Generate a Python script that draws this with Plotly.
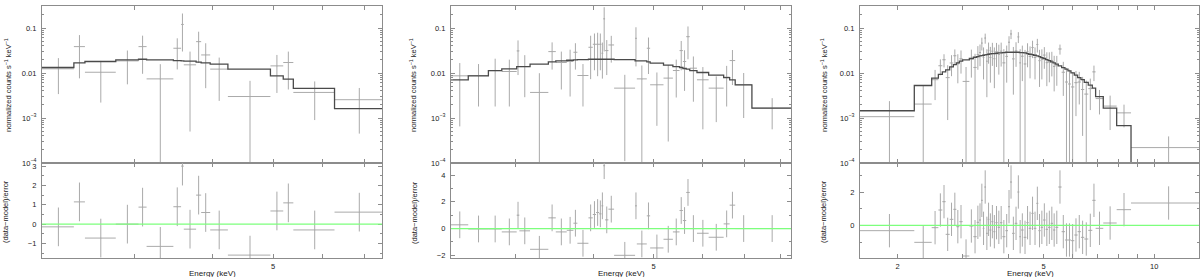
import math
import plotly.graph_objects as go

# ---------------- Panel 1 ----------------
p1_edges = [2.128, 2.394, 2.494, 2.795, 3.04, 3.132, 3.458, 3.558, 3.594, 3.761,
            3.832, 3.962, 4.23, 4.95, 5.19, 5.387, 6.273, 7.476]
p1_rate = [0.0124, 0.0386, 0.0104, 0.0186, 0.0386, 0.0074, 0.0355, 0.12, 0.0152,
           0.0498, 0.0252, 0.0122, 0.0030, 0.0144, 0.0171, 0.0037, 0.00255]
p1_err = [0.009, 0.031, 0.0082, 0.013, 0.029, 0.0083, 0.0235, 0.09, 0.0147,
          0.033, 0.0206, 0.0098, 0.0037, 0.0108, 0.0128, 0.0028, 0.0021]
p1_model = [0.01324, 0.0168, 0.018, 0.0196, 0.0202, 0.0196, 0.0189, 0.0186, 0.0183,
            0.0174, 0.0168, 0.0157, 0.0122, 0.00865, 0.0073, 0.00454, 0.00161]
p1_resid = [-0.14, 1.15, -0.72, 0.0, 0.88, -1.15, 0.9, 3.0, -0.26, 1.5, 0.6,
            -0.3, -1.6, 0.68, 1.1, -0.3, 0.62]

# ---------------- Panel 2 ----------------
p2_edges = [2.359, 2.515, 2.710, 2.848, 3.010, 3.040, 3.163, 3.385, 3.480, 3.624,
            3.715, 3.770, 3.928, 3.992, 4.041, 4.087, 4.123, 4.150, 4.178, 4.230,
            4.320, 4.670, 4.700, 4.877, 4.938, 5.189, 5.373, 5.507, 5.576, 5.645,
            5.720, 5.875, 6.135, 6.486, 6.632, 6.770, 7.203, 8.327]
p2_rate = [0.00865, 0.0088, 0.0113, 0.0108, 0.031, 0.0139, 0.0037, 0.0299, 0.0171,
           0.018, 0.0289, 0.0088, 0.0373, 0.0435, 0.0435, 0.0435, 0.0275, 0.16,
           0.0315, 0.042, 0.00461, 0.059, 0.0074, 0.0355, 0.00547, 0.0077, 0.01135,
           0.0315, 0.018, 0.0642, 0.0128, 0.00706, 0.00461, 0.0081, 0.0189, 0.0055,
           0.00166]
p2_err = [0.008, 0.007, 0.0095, 0.009, 0.022, 0.011, 0.0062, 0.018, 0.0128, 0.015,
          0.017, 0.007, 0.03, 0.032, 0.035, 0.032, 0.02, 0.13, 0.0225, 0.025, 0.0045,
          0.045, 0.0073, 0.026, 0.0048, 0.0074, 0.0085, 0.02, 0.014, 0.044, 0.0105,
          0.0065, 0.0038, 0.0063, 0.0135, 0.0045, 0.0011]
p2_model = [0.00706, 0.00865, 0.01135, 0.0124, 0.0139, 0.0139, 0.0157, 0.0177, 0.0186,
            0.0192, 0.0196, 0.0199, 0.0202, 0.0202, 0.0202, 0.0202, 0.0202, 0.0202,
            0.0202, 0.0202, 0.0199, 0.0186, 0.0186, 0.0177, 0.0165, 0.0149, 0.0139,
            0.01324, 0.0126, 0.0122, 0.01135, 0.01025, 0.00895, 0.0079, 0.00706,
            0.00547, 0.00166]
p2_resid = [0.28, -0.03, -0.03, -0.25, 1.0, -0.17, -1.55, 0.8, -0.25, -0.13, 0.4,
            -1.1, 0.8, 1.05, 1.2, 1.1, 1.7, 4.7, 0.65, 1.45, -2.0, 1.7, -1.15, 0.95,
            -1.45, -0.8, -0.25, 1.35, 0.6, 2.7, 0.0, -0.35, -0.65, 0.35, 1.75, 0.0, 0.0]

# ---------------- Panel 3 ----------------
p3_edges = [1.579, 2.220, 2.476, 2.582, 2.647, 2.703, 2.772, 2.836, 2.890, 2.945,
            3.007, 3.136, 3.216, 3.284, 3.332, 3.374, 3.410, 3.446, 3.482, 3.519,
            3.556, 3.601, 3.646, 3.692, 3.746, 3.801, 3.857, 3.931, 3.997, 4.048,
            4.099, 4.168, 4.239, 4.291, 4.336, 4.410, 4.485, 4.551, 4.628, 4.696,
            4.775, 4.835, 4.907, 4.979, 5.062, 5.137, 5.224, 5.301, 5.378, 5.480,
            5.596, 5.714, 5.823, 5.933, 6.059, 6.186, 6.316, 6.450, 6.614, 6.783,
            6.926, 7.267, 7.904, 8.649, 13.25]
p3_model = [0.00145, 0.00528, 0.0077, 0.0093, 0.0106, 0.0117, 0.0137, 0.0154, 0.0168,
            0.0183, 0.0196, 0.0210, 0.0224, 0.0232, 0.0240, 0.0244, 0.0248, 0.0252,
            0.0257, 0.0261, 0.0266, 0.0270, 0.0270, 0.0275, 0.0279, 0.0279, 0.0284,
            0.0289, 0.0289, 0.0289, 0.0289, 0.0289, 0.0289, 0.0284, 0.0284, 0.0279,
            0.0270, 0.0261, 0.0257, 0.0248, 0.0240, 0.0232, 0.0220, 0.0210, 0.0199,
            0.0189, 0.0177, 0.0168, 0.0157, 0.0144, 0.0132, 0.0122, 0.0112, 0.0101,
            0.0090, 0.0079, 0.0071, 0.0062, 0.0054, 0.0046, 0.0030, 0.00166, 0.00068,
            0.00005]
p3_err = [0.0013, 0.0032, 0.0046, 0.0056, 0.0064, 0.007, 0.0082, 0.0092, 0.0101,
          0.011, 0.0071, 0.0126, 0.0134, 0.0139, 0.0144, 0.0146, 0.0149, 0.0151,
          0.0154, 0.0157, 0.016, 0.0162, 0.0162, 0.0165, 0.0167, 0.0167, 0.017,
          0.0173, 0.0173, 0.0173, 0.0173, 0.0173, 0.0173, 0.017, 0.017, 0.0167,
          0.0162, 0.0157, 0.0154, 0.0149, 0.0144, 0.0139, 0.0132, 0.0126, 0.0119,
          0.0113, 0.0106, 0.0101, 0.0094, 0.0086, 0.0073, 0.0067, 0.0062, 0.0056,
          0.005, 0.0043, 0.0039, 0.0034, 0.003, 0.004, 0.0015, 0.0013, 0.00068,
          0.00017]
p3_rate = [0.00107, 0.00204, 0.0071, 0.0145, 0.0197, 0.0079, 0.0167, 0.0242, 0.016,
           0.0207, 0.0065, 0.0205, 0.0133, 0.0257, 0.0286, 0.0463, 0.0221, 0.0599,
           0.0183, 0.0318, 0.0221, 0.0306, 0.0208, 0.0301, 0.0259, 0.0306, 0.0168,
           0.0234, 0.0483, 0.0739, 0.0206, 0.031, 0.0635, 0.0168, 0.0236, 0.0159,
           0.0296, 0.0233, 0.0368, 0.0221, 0.043, 0.0188, 0.0204, 0.025, 0.017,
           0.0175, 0.019, 0.014, 0.0146, 0.0342, 0.0104, 0.0063, 0.0057, 0.0049,
           0.0061, 0.0063, 0.0043, 0.0034, 0.0045, 0.0106, 0.0027, 0.00184, 0.0013,
           0.00022]
p3_resid = [-0.32, -1.02, -0.14, 0.92, 1.42, -0.54, 0.36, 0.96, -0.08, 0.22, -1.84,
            -0.04, -0.68, 0.18, 0.32, 1.5, -0.18, 2.3, -0.48, 0.36, -0.28, 0.22,
            -0.38, 0.16, -0.12, 0.16, -0.68, -0.32, 1.12, 2.6, -0.48, 0.12, 2.0,
            -0.68, -0.28, -0.72, 0.16, -0.18, 0.72, -0.18, 1.32, -0.32, -0.12, 0.32,
            -0.24, -0.12, 0.12, -0.28, -0.12, 2.3, -0.38, -0.88, -0.88, -0.92, -0.58,
            -0.38, -0.72, -0.82, -0.3, 1.5, -0.18, 0.14, 0.94, 1.34]

# Axis tick definitions
p1_xticks = [3, 4, 5, 6, 7]
p1_xlabels = ["", "", "5", "", ""]
p2_xticks = [3, 4, 5, 6, 7, 8]
p2_xlabels = ["", "", "5", "", "", ""]
p3_xticks = [2, 3, 4, 5, 6, 7, 8, 9, 10]
p3_xlabels = ["2", "", "", "5", "", "", "", "", "10"]
top_yticks = [1e-4, 1e-3, 1e-2, 1e-1]
top_ylabels = ["10<sup>−4</sup>", "10<sup>−3</sup>", "0.01", "0.1"]
top_yminor = [m * 10.0 ** d for d in (-4, -3, -2, -1) for m in range(2, 10) if m * 10.0 ** d < 0.31]

# ---------------- styling ----------------
FONT = "Liberation Sans, Arial, sans-serif"
FRAME = "#8c8c8c"
DATA = "#aaaaaa"
MODEL = "#4a4a4a"
GREEN = "#7dff7d"
TXT = "#222222"

W, H = 1200, 277
PLOT_TOP, PLOT_BOT = 6, 258      # pixel rows of plot area
SPLIT = 163                       # boundary between top and bottom panels
ph = PLOT_BOT - PLOT_TOP
split_frac = (PLOT_BOT - SPLIT) / ph

panels = [
    dict(edges=p1_edges, rate=p1_rate, err=p1_err, model=p1_model, resid=p1_resid,
         px=(42, 382), xt=p1_xticks, xl=p1_xlabels, yr=(-1.75, 3.16), ydt=1,
         ytitle_x=(8, 5), xtitle_x=212.7),
    dict(edges=p2_edges, rate=p2_rate, err=p2_err, model=p2_model, resid=p2_resid,
         px=(451, 791), xt=p2_xticks, xl=p2_xlabels, yr=(-2.2, 4.9), ydt=2,
         ytitle_x=(413, 414), xtitle_x=621.7),
    dict(edges=p3_edges, rate=p3_rate, err=p3_err, model=p3_model, resid=p3_resid,
         px=(860, 1199), xt=p3_xticks, xl=p3_xlabels, yr=(-1.96, 3.74), ydt=2,
         ytitle_x=(824, 823), xtitle_x=1030),
]

fig = go.Figure()
layout = dict(width=W, height=H, margin=dict(l=0, r=0, t=PLOT_TOP, b=H - PLOT_BOT),
              paper_bgcolor="white", plot_bgcolor="white", showlegend=False,
              font=dict(family=FONT, size=8, color=TXT))
annotations = []
shapes = []

common = dict(showline=True, linecolor=FRAME, linewidth=1.2, mirror="allticks",
              ticks="inside", ticklen=4, tickwidth=1, tickcolor=FRAME, showgrid=False,
              zeroline=False, tickfont=dict(family=FONT, size=7.5, color=TXT))


def axname(n, kind):
    return f"{kind}axis" if n == 1 else f"{kind}axis{n}"


def ref(n, kind):
    return kind if n == 1 else f"{kind}{n}"


def py2paper(py):
    return (PLOT_BOT - py) / ph


for k, p in enumerate(panels):
    nt, nb = 2 * k + 1, 2 * k + 2
    edges = p["edges"]
    lo, hi = edges[:-1], edges[1:]
    cen = [(a + b) / 2 for a, b in zip(lo, hi)]
    xdom = [p["px"][0] / W, p["px"][1] / W]
    xr = [math.log10(edges[0]), math.log10(edges[-1])]

    errx = dict(type="data", symmetric=False, array=[b - c for b, c in zip(hi, cen)],
                arrayminus=[c - a for a, c in zip(lo, cen)], width=0, thickness=1, color=DATA)
    fig.add_trace(go.Scatter(x=cen, y=p["rate"], mode="markers",
                             marker=dict(size=1, color=DATA),
                             error_x=errx,
                             error_y=dict(type="data", array=p["err"], width=0,
                                          thickness=1, color=DATA),
                             xaxis=ref(nt, "x"), yaxis=ref(nt, "y"), hoverinfo="skip"))
    fig.add_trace(go.Scatter(x=edges, y=p["model"] + [p["model"][-1]], mode="lines",
                             line=dict(shape="hv", color=MODEL, width=1.3),
                             xaxis=ref(nt, "x"), yaxis=ref(nt, "y"), hoverinfo="skip"))
    fig.add_trace(go.Scatter(x=cen, y=p["resid"], mode="markers",
                             marker=dict(size=1, color=DATA),
                             error_x=errx,
                             error_y=dict(type="constant", value=1, width=0,
                                          thickness=1, color=DATA),
                             xaxis=ref(nb, "x"), yaxis=ref(nb, "y"), hoverinfo="skip"))

    layout[axname(nt, "x")] = dict(common, type="log", range=xr, domain=xdom,
                                   anchor=ref(nt, "y"), tickvals=p["xt"],
                                   showticklabels=False)
    layout[axname(nb, "x")] = dict(common, type="log", range=xr, domain=xdom,
                                   anchor=ref(nb, "y"), tickvals=p["xt"],
                                   ticktext=p["xl"], ticklabelstandoff=1)
    layout[axname(nt, "y")] = dict(common, type="log", range=[-4, -0.511],
                                   domain=[split_frac, 1], anchor=ref(nt, "x"),
                                   tickvals=top_yticks, ticktext=top_ylabels,
                                   ticklabelstandoff=3,
                                   minor=dict(tickvals=top_yminor, ticks="inside",
                                              ticklen=2, tickcolor=FRAME))
    layout[axname(nb, "y")] = dict(common, range=list(p["yr"]), domain=[0, split_frac],
                                   anchor=ref(nb, "x"), dtick=p["ydt"], tick0=0,
                                   ticklabelstandoff=3,
                                   minor=dict(dtick=p["ydt"] / 2, ticks="inside",
                                              ticklen=2, tickcolor=FRAME))

    shapes.append(dict(type="line", xref=f"{ref(nb, 'x')} domain", x0=0, x1=1,
                       yref=ref(nb, "y"), y0=0, y1=0, layer="above",
                       line=dict(color=GREEN, width=1.2)))

    annotations.append(dict(text="normalized counts s<sup>−1</sup> keV<sup>−1</sup>",
                            xref="paper", yref="paper", x=p["ytitle_x"][0] / W,
                            y=py2paper(85), textangle=-90, showarrow=False,
                            xanchor="center", yanchor="middle",
                            font=dict(family=FONT, size=7.5, color=TXT)))
    annotations.append(dict(text="(data−model)/error", xref="paper", yref="paper",
                            x=p["ytitle_x"][1] / W, y=py2paper(212), textangle=-90,
                            showarrow=False, xanchor="center", yanchor="middle",
                            font=dict(family=FONT, size=7.5, color=TXT)))
    annotations.append(dict(text="Energy (keV)", xref="paper", yref="paper",
                            x=p["xtitle_x"] / W, y=py2paper(273.5), showarrow=False,
                            xanchor="center", yanchor="middle",
                            font=dict(family=FONT, size=8, color=TXT)))

layout["annotations"] = annotations
layout["shapes"] = shapes
fig.update_layout(**layout)
fig.write_html("out.html", config={"displayModeBar": False},
               post_script="document.body.style.margin='0';document.body.style.overflow='hidden';")
